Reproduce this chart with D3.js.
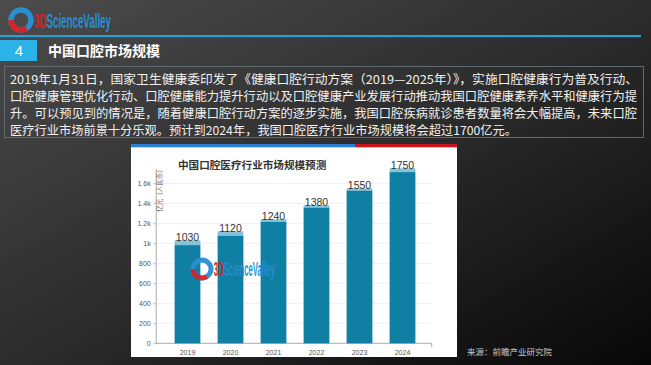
<!DOCTYPE html>
<html><head><meta charset="utf-8">
<script src="https://cdn.jsdelivr.net/npm/d3@7"></script>
<style>
html,body{margin:0;padding:0;background:#222;}
svg{display:block;}
</style></head>
<body>
<svg id="c" width="651" height="365"></svg>
<script>
const years = ["2019","2020","2021","2022","2023","2024"];
const values = [1030,1120,1240,1380,1550,1750];
const baseValues = [982,1076,1214,1357,1527,1712];
const yTicks = [0,200,400,600,800,1000,1200,1400,1600];
const bodyLines = [
 "2019年1月31日，国家卫生健康委印发了《健康口腔行动方案（2019—2025年）》，实施口腔健康行为普及行动、",
 "口腔健康管理优化行动、口腔健康能力提升行动以及口腔健康产业发展行动推动我国口腔健康素养水平和健康行为提",
 "升。可以预见到的情况是，随着健康口腔行动方案的逐步实施，我国口腔疾病就诊患者数量将会大幅提高，未来口腔",
 "医疗行业市场前景十分乐观。预计到2024年，我国口腔医疗行业市场规模将会超过1700亿元。"
];
const lineWidths = [628, 627, 627, 507];

const svg = d3.select("#c");
const cjk = "'Noto Sans CJK SC','Noto Sans',sans-serif";
const narrow = "'Liberation Sans Narrow','Liberation Sans',sans-serif";
const defs = svg.append("defs");
const bg = defs.append("linearGradient").attr("id","bg").attr("x1","0").attr("y1","0").attr("x2","1").attr("y2","1");
bg.append("stop").attr("offset","0").attr("stop-color","#4c4c4c");
bg.append("stop").attr("offset","0.5").attr("stop-color","#2c2c2c");
bg.append("stop").attr("offset","1").attr("stop-color","#070707");
svg.append("rect").attr("width",651).attr("height",365).attr("fill","url(#bg)");

function logo(g, x, y, r, fs, totalW, op){
  const w = g.append("g").attr("opacity",op);
  w.append("circle").attr("cx",x).attr("cy",y).attr("r",r).attr("fill","none").attr("stroke","#2a8fd0").attr("stroke-width",r*0.55);
  w.append("path").attr("d",`M${x-r},${y} A${r},${r} 0 0,0 ${x+r*0.55},${y+r*0.83}`).attr("fill","none").attr("stroke","#d0262b").attr("stroke-width",r*0.55);
  const tx = x + r*1.3;
  const tg = w.append("g").attr("transform",`translate(${tx},${y+fs*0.36})`);
  const t = tg.append("text").attr("x",0).attr("y",0).attr("font-family",narrow).attr("font-weight","bold")
    .attr("font-size",fs);
  t.append("tspan").attr("fill","#d0262b").text("3D");
  t.append("tspan").attr("fill","#2a8fd0").text("ScienceValley");
  const nat = t.node().getComputedTextLength();
  tg.attr("transform",`translate(${tx},${y+fs*0.36}) scale(${totalW/nat},1)`);
  return w;
}

// top logo
logo(svg, 21, 20, 10, 21, 77, 1);

// blue rule
svg.append("rect").attr("x",0).attr("y",35).attr("width",641).attr("height",2.2).attr("fill","#2a9fd6");
// section number box
svg.append("rect").attr("x",0).attr("y",40).attr("width",37).attr("height",21).attr("fill","#2bb2e6");
svg.append("text").attr("x",19).attr("y",56).attr("text-anchor","middle").attr("fill","#fff")
  .attr("font-family","'Liberation Sans',sans-serif").attr("font-size",15).text("4");
svg.append("text").attr("x",48).attr("y",56).attr("fill","#fff").attr("font-weight","bold")
  .attr("font-family",cjk).attr("font-size",14).text("中国口腔市场规模");

// text box
svg.append("rect").attr("x",4.5).attr("y",66.5).attr("width",639).attr("height",71)
  .attr("fill","none").attr("stroke","#5d6a70").attr("stroke-width",1);
bodyLines.forEach((t,i)=>{
  svg.append("text").attr("x",10).attr("y",84+i*17).attr("fill","#f2f2f2")
    .attr("font-family",cjk).attr("font-size",12.3)
    .attr("textLength",lineWidths[i]).attr("lengthAdjust","spacingAndGlyphs").text(t);
});

// chart panel
svg.append("rect").attr("x",131).attr("y",146).attr("width",326).attr("height",211).attr("fill","#ffffff");
svg.append("rect").attr("x",131).attr("y",144).attr("width",224).attr("height",3.3).attr("fill","#2a7fd2");
svg.append("rect").attr("x",355).attr("y",144).attr("width",102).attr("height",3.3).attr("fill","#c8161d");

svg.append("text").attr("x",178).attr("y",169).attr("fill","#333").attr("font-weight","bold")
  .attr("font-family",cjk).attr("font-size",10.6).text("中国口腔医疗行业市场规模预测");

const x = d3.scaleBand().domain(years).range([166,424]).paddingInner(0.4).paddingOuter(0.2);
const y = d3.scaleLinear().domain([0,1750]).range([343.3,168.3]);
const axL = 155.7, axR = 431.7;

// grid
svg.append("g").selectAll("line").data(yTicks.slice(1)).join("line")
  .attr("x1",axL).attr("x2",axR).attr("y1",d=>y(d)).attr("y2",d=>y(d))
  .attr("stroke","#ececec").attr("stroke-width",0.8);

// y axis
const yAxis = d3.axisLeft(y).tickValues(yTicks).tickFormat(d3.format("~s")).tickSize(2).tickSizeOuter(0);
const gy = svg.append("g").attr("transform",`translate(${axL},0)`).call(yAxis);
gy.select(".domain").attr("stroke","#aaa");
gy.selectAll(".tick line").attr("stroke","#aaa");
gy.selectAll("text").attr("fill","#555").attr("font-size",7).attr("font-family","'Liberation Sans',sans-serif");

// x axis
const xAxis = d3.axisBottom(x).tickSize(0).tickSizeOuter(0).tickPadding(7);
const gx = svg.append("g").attr("transform",`translate(0,${y(0)})`).call(xAxis);
gx.select(".domain").attr("d",`M${axL},0H${axR}V4`).attr("stroke","#aaa");
gx.selectAll("text").attr("fill","#555").attr("font-size",7).attr("font-family","'Liberation Sans',sans-serif");

// y label
svg.append("text").attr("transform",`translate(162,189) rotate(-90)`).attr("text-anchor","middle")
  .attr("fill","#666").attr("font-family",cjk).attr("font-size",6.5).text("亿元（人民币）");

// bars
const data = years.map((yr,i)=>({yr, v:values[i], b:baseValues[i]}));
svg.append("g").selectAll("rect").data(data).join("rect")
  .attr("x",d=>x(d.yr)).attr("width",x.bandwidth())
  .attr("y",d=>y(d.v)).attr("height",d=>y(d.b)-y(d.v)).attr("fill","#86c2da");
svg.append("g").selectAll("rect").data(data).join("rect")
  .attr("x",d=>x(d.yr)).attr("width",x.bandwidth())
  .attr("y",d=>y(d.b)).attr("height",d=>y(0)-y(d.b)).attr("fill","#0f7fa3");
svg.append("g").selectAll("text").data(data).join("text")
  .attr("x",d=>x(d.yr)+x.bandwidth()/2).attr("y",d=>y(d.v)+0.5).attr("text-anchor","middle")
  .attr("fill","#333").attr("font-family","'Liberation Sans',sans-serif").attr("font-size",10.5).text(d=>d.v);

// chart watermark
logo(svg, 202, 269, 9, 20, 61, 0.95);

// source
svg.append("text").attr("x",467).attr("y",355).attr("fill","#c8c8c8")
  .attr("font-family",cjk).attr("font-size",8.5).text("来源：前瞻产业研究院");
</script>
</body></html>
